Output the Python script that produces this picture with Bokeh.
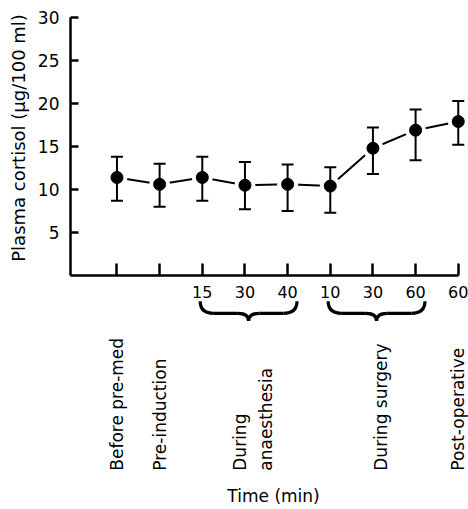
import numpy as np
from bokeh.plotting import figure
from bokeh.models import Range1d, FixedTicker, LinearAxis, ColumnDataSource
from bokeh.core.properties import value
from bokeh.embed import file_html
from bokeh.resources import INLINE

# ---- data ----
positions = [1, 2, 3, 4, 5, 6, 7, 8, 9]
tick_labels = ["", "", "15", "30", "40", "10", "30", "60", "60"]
cortisol_mean = [11.4, 10.6, 11.4, 10.5, 10.6, 10.4, 14.8, 16.9, 17.9]
cortisol_upper = [13.8, 13.0, 13.8, 13.2, 12.9, 12.6, 17.2, 19.3, 20.3]
cortisol_lower = [8.7, 8.0, 8.7, 7.7, 7.5, 7.3, 11.8, 13.4, 15.2]
y_ticks = [5, 10, 15, 20, 25, 30]

group_names = ["Before pre-med", "Pre-induction", "During\nanaesthesia",
               "During surgery", "Post-operative"]
group_first = [1, 2, 3, 6, 9]
group_last = [1, 2, 5, 8, 9]
group_braced = [False, False, True, True, False]

y_title = "Plasma cortisol (μg/100 ml)"
x_title = "Time (min)"

FONT = "DejaVu Sans"
FS = "17px"

X0 = -0.09  # where the axes cross
p = figure(width=468, height=509,
           x_range=Range1d(-1.73, 9.24), y_range=Range1d(-27.21, 31.98),
           output_backend="svg", toolbar_location=None,
           x_axis_location=None, y_axis_location=None,
           min_border_left=0, min_border_right=0, min_border_top=0, min_border_bottom=0)
p.grid.visible = False
p.outline_line_color = None
p.background_fill_color = "white"
p.border_fill_color = "white"

# ---- axes ----
xaxis = LinearAxis(fixed_location=0, bounds=(X0, 9),
                   ticker=FixedTicker(ticks=positions),
                   major_label_overrides={pos: lab for pos, lab in zip(positions, tick_labels)})
xaxis.major_tick_in = 12
xaxis.major_tick_out = 0
xaxis.minor_tick_line_color = None
xaxis.axis_line_width = 2.5
xaxis.major_tick_line_width = 2.5
xaxis.major_label_standoff = 10
xaxis.major_label_text_font = FONT
xaxis.major_label_text_font_size = "16px"
xaxis.major_label_text_color = "black"
xaxis.axis_line_color = "black"
xaxis.major_tick_line_color = "black"
p.add_layout(xaxis, "below")

yaxis = LinearAxis(fixed_location=X0, bounds=(0, 30), ticker=FixedTicker(ticks=y_ticks))
yaxis.major_tick_in = 8
yaxis.major_tick_out = 0
yaxis.minor_tick_line_color = None
yaxis.axis_line_width = 2.5
yaxis.major_tick_line_width = 2.5
yaxis.major_label_standoff = 11
yaxis.major_label_text_font = FONT
yaxis.major_label_text_font_size = FS
yaxis.major_label_text_color = "black"
yaxis.axis_line_color = "black"
yaxis.major_tick_line_color = "black"
p.add_layout(yaxis, "left")

# ---- series ----
src = ColumnDataSource(dict(x=positions, m=cortisol_mean, up=cortisol_upper, lo=cortisol_lower))
p.line("x", "m", source=src, line_width=2, line_color="black")
p.scatter("x", "m", source=src, size=21, fill_color="white", line_color=None)
p.segment(x0="x", y0="lo", x1="x", y1="up", source=src, line_width=2, line_color="black")
p.scatter("x", "up", source=src, marker="dash", size=12, line_width=2, line_color="black")
p.scatter("x", "lo", source=src, marker="dash", size=12, line_width=2, line_color="black")
p.scatter("x", "m", source=src, size=12, fill_color="black", line_color="black")

# ---- braces under grouped ticks ----
y_top, y_mid, y_tip = -3.0, -4.4, -5.3
bx0, bx1 = [], []
for f, l, b in zip(group_first, group_last, group_braced):
    if b:
        bx0.append(f - 0.05)
        bx1.append(l + 0.22)
bx0 = np.array(bx0)
bx1 = np.array(bx1)
bxc = (bx0 + bx1) / 2
d_end, d_mid = 0.32, 0.25
n = len(bx0)
yt = np.full(n, y_top)
ym = np.full(n, y_mid)
yp = np.full(n, y_tip)
bw = dict(line_width=3.2, line_color="black")
p.quadratic(x0=bx0, y0=yt, x1=bx0 + d_end, y1=ym, cx=bx0, cy=ym, **bw)
p.segment(x0=bx0 + d_end, y0=ym, x1=bxc - d_mid, y1=ym, **bw)
p.quadratic(x0=bxc - d_mid, y0=ym, x1=bxc, y1=yp, cx=bxc, cy=ym, **bw)
p.quadratic(x0=bxc, y0=yp, x1=bxc + d_mid, y1=ym, cx=bxc, cy=ym, **bw)
p.segment(x0=bxc + d_mid, y0=ym, x1=bx1 - d_end, y1=ym, **bw)
p.quadratic(x0=bx1 - d_end, y0=ym, x1=bx1, y1=yt, cx=bx1, cy=ym, **bw)

# ---- category labels (rotated) ----
label_x = []
bi = 0
for f, l, b in zip(group_first, group_last, group_braced):
    if b:
        label_x.append(float(bxc[bi]) + 0.1)
        bi += 1
    else:
        label_x.append(float(f))
p.text(x=label_x, y=[-22.7] * len(label_x), text=group_names, angle=np.pi / 2,
       text_align="left", text_baseline="middle", text_font=value(FONT),
       text_font_size=FS, text_color="black", text_line_height=1.3)

# ---- axis titles ----
p.text(x=[-1.3], y=[16.0], text=[y_title], angle=np.pi / 2,
       text_align="center", text_baseline="middle", text_font=value(FONT),
       text_font_size="18px", text_color="black")
p.text(x=[4.67], y=[-25.6], text=[x_title], text_align="center",
       text_baseline="middle", text_font=value(FONT), text_font_size=FS,
       text_color="black")

open("out.html", "w").write(file_html(p, INLINE))
